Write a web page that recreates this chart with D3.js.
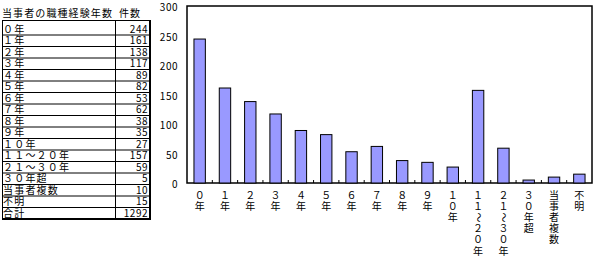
<!DOCTYPE html>
<html>
<head>
<meta charset="utf-8">
<script src="https://cdn.jsdelivr.net/npm/d3@7"></script>
<style>
body { margin: 0; background: #fff; }
text { font-family: "Noto Sans CJK JP", sans-serif; fill: #000; }
</style>
</head>
<body>
<script>
// data
var categories = ['０年', '１年', '２年', '３年', '４年', '５年', '６年', '７年', '８年', '９年',
  '１０年', '１１～２０年', '２１～３０年', '３０年超', '当事者複数', '不明'];
var counts = [244, 161, 138, 117, 89, 82, 53, 62, 38, 35, 27, 157, 59, 5, 10, 15];
var totalLabel = '合計';
var total = 1292;
var headers = ['当事者の職種経験年数', '件数'];
var yTicks = [0, 50, 100, 150, 200, 250, 300];

var svg = d3.select('body').append('svg').attr('width', 596).attr('height', 261);

// ---- table ----
var tbl = svg.append('g');
var tLeft = 2, tMid = 115, tRight = 150, tTop = 20, firstLine = 35, rowH = 11.5;
var rows = categories.map(function (c, i) { return { name: c, value: counts[i] }; });
rows.push({ name: totalLabel, value: total });
var tBottom = firstLine + (rows.length - 1) * rowH;

tbl.append('text').attr('x', tLeft).attr('y', 17).attr('font-size', 10).attr('letter-spacing', 1.1).text(headers[0]);
tbl.append('text').attr('x', 119).attr('y', 17).attr('font-size', 10).attr('letter-spacing', 1.1).text(headers[1]);

tbl.append('line').attr('x1', tLeft).attr('x2', tRight).attr('y1', tTop + 0.5).attr('y2', tTop + 0.5)
  .attr('stroke', 'black');
tbl.selectAll('.rl').data(rows).enter().append('line')
  .attr('x1', tLeft).attr('x2', tRight)
  .attr('y1', function (d, i) { return firstLine + i * rowH; })
  .attr('y2', function (d, i) { return firstLine + i * rowH; })
  .attr('stroke', 'black').attr('stroke-width', function (d, i) { return i == rows.length - 1 ? 2 : 1; });
tbl.append('line').attr('x1', tLeft + 0.5).attr('x2', tLeft + 0.5).attr('y1', tTop).attr('y2', tBottom).attr('stroke', 'black');
tbl.append('line').attr('x1', tMid + 0.5).attr('x2', tMid + 0.5).attr('y1', tTop).attr('y2', tBottom).attr('stroke', 'black');
tbl.append('line').attr('x1', tRight).attr('x2', tRight).attr('y1', tTop).attr('y2', tBottom + 1).attr('stroke', 'black').attr('stroke-width', 2);

tbl.selectAll('.rn').data(rows).enter().append('text')
  .attr('x', tLeft + 1).attr('y', function (d, i) { return firstLine + i * rowH - 2.5; })
  .attr('font-size', 10).attr('letter-spacing', 1.2).text(function (d) { return d.name; });
tbl.selectAll('.rv').data(rows).enter().append('text')
  .attr('x', tRight - 2).attr('y', function (d, i) { return firstLine + i * rowH - 2.5; })
  .attr('text-anchor', 'end').attr('font-size', 10).attr('letter-spacing', 0.5)
  .text(function (d) { return d.value; });

// ---- chart ----
var pLeft = 187, pRight = 592, pTop = 6, pBottom = 183;
var x = d3.scaleBand().domain(categories).range([pLeft, pRight]).paddingInner(0.55).paddingOuter(0.275);
var xb = d3.scaleBand().domain(categories).range([pLeft, pRight]);
var y = d3.scaleLinear().domain([0, 300]).range([pBottom, pTop]);

var chart = svg.append('g');

chart.append('rect').attr('x', pLeft).attr('y', pTop).attr('width', pRight - pLeft).attr('height', pBottom - pTop)
  .attr('fill', 'none').attr('stroke', 'black').attr('stroke-width', 1.5);

chart.selectAll('.bar').data(counts).enter().append('rect')
  .attr('x', function (d, i) { return x(categories[i]); })
  .attr('y', function (d) { return y(d); })
  .attr('width', x.bandwidth())
  .attr('height', function (d) { return pBottom - y(d); })
  .attr('fill', '#9999ff').attr('stroke', 'black').attr('stroke-width', 1);

// inward category ticks
chart.selectAll('.tk').data(categories.slice(1)).enter().append('line')
  .attr('x1', function (d) { return xb(d); }).attr('x2', function (d) { return xb(d); })
  .attr('y1', pBottom).attr('y2', pBottom - 3).attr('stroke', 'black');

// y axis labels
var yAxis = d3.axisLeft(y).tickValues(yTicks).tickSize(0).tickPadding(9);
var yg = chart.append('g').attr('transform', 'translate(' + pLeft + ',0)').call(yAxis);
yg.select('.domain').remove();
yg.selectAll('text').attr('font-size', 10).attr('letter-spacing', 0.5).attr('dy', '0.45em')
  .style('font-family', '"Noto Sans CJK JP", sans-serif');

// x labels: one character per line
categories.forEach(function (c) {
  var cx = xb(c) + xb.bandwidth() / 2;
  Array.from(c).forEach(function (ch, j) {
    var cy = 195 + j * 11.2;
    var t = chart.append('text').attr('x', cx).attr('y', cy + 3.5)
      .attr('text-anchor', 'middle').attr('font-size', 10).text(ch);
    if (ch == '～') t.attr('transform', 'rotate(90,' + cx + ',' + cy + ')');
  });
});
</script>
</body>
</html>
